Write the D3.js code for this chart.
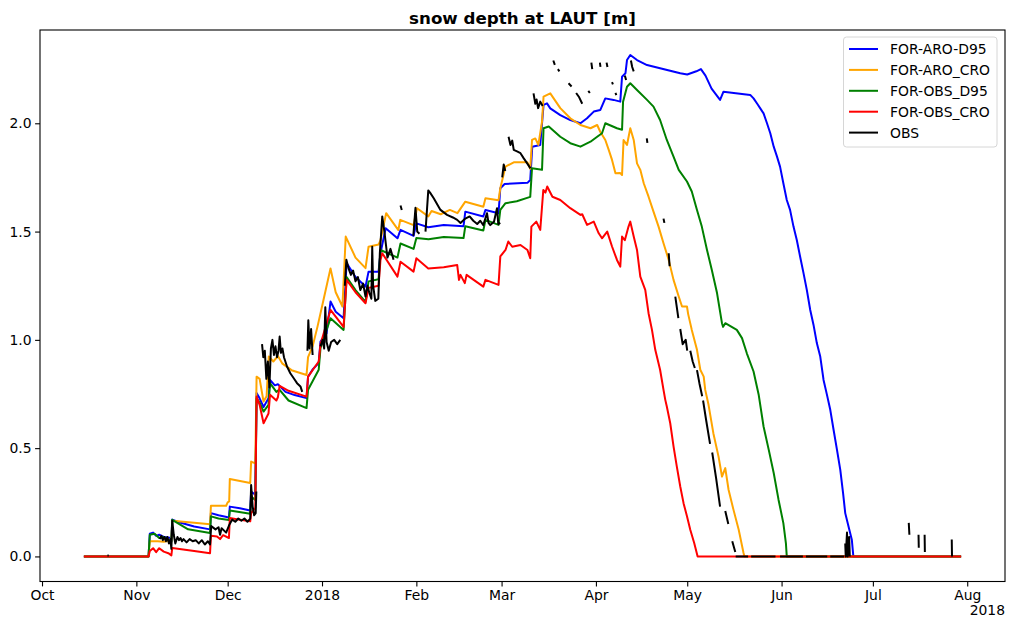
<!DOCTYPE html>
<html><head><meta charset="utf-8">
<script src="https://cdn.jsdelivr.net/npm/d3@7"></script>
<style>
body{margin:0;background:#fff;}
svg text{font-family:"DejaVu Sans",sans-serif;fill:#000;}
</style></head>
<body><svg id="c" width="1010" height="623"></svg>
<script>
// ---- data (dates as "MM-DD HH"; Sep-Dec = 2017, Jan-Aug = 2018) ----
const title = "snow depth at LAUT [m]";
const seriesNames = ["FOR-ARO-D95","FOR-ARO_CRO","FOR-OBS_D95","FOR-OBS_CRO","OBS"];
const seriesColors = ["#0000ff","#ffa500","#008000","#ff0000","#000000"];
const monthTicks = ["10-01","11-01","12-01","01-01","02-01","03-01","04-01","05-01","06-01","07-01","08-01"];
const monthLabels = ["Oct","Nov","Dec","2018","Feb","Mar","Apr","May","Jun","Jul","Aug"];
const yTicks = [0,0.5,1.0,1.5,2.0];
const yearOffsetLabel = "2018";

const foraroD95 = [["10-14 18",0],["11-05 00",0],["11-05 10",0.105],["11-06 12",0.11],["11-07 12",0.095],["11-08 12",0.10],["11-10 00",0.09],["11-12 12",0.085],["11-12 19",0.17],["11-15 00",0.158],["11-20 00",0.138],["11-25 05",0.125],["11-25 12",0.20],["11-28 00",0.19],["12-01 10",0.18],["12-01 17",0.23],["12-05 00",0.222],["12-08 10",0.212],["12-08 17",0.30],["12-10 02",0.285],["12-10 12",0.755],["12-11 12",0.73],["12-12 19",0.69],["12-14 10",0.73],["12-14 22",0.815],["12-16 12",0.79],["12-17 12",0.795],["12-20 00",0.76],["12-23 00",0.745],["12-26 22",0.731],["12-27 10",0.83],["12-29 00",0.865],["12-30 22",0.893],["12-31 12",0.992],["01-02 12",1.03],["01-03 19",1.177],["01-05 12",1.13],["01-08 02",1.10],["01-09 02",1.355],["01-12 00",1.29],["01-15 07",1.246],["01-16 07",1.315],["01-19 14",1.315],["01-20 05",1.40],["01-21 22",1.515],["01-25 19",1.469],["01-26 19",1.508],["01-31 02",1.48],["02-01 00",1.538],["02-04 22",1.52],["02-10 00",1.53],["02-16 12",1.525],["02-17 02",1.592],["02-23 00",1.57],["02-23 17",1.60],["02-28 00",1.585],["02-28 14",1.70],["03-02 00",1.72],["03-09 12",1.725],["03-10 10",1.738],["03-11 02",1.892],["03-13 17",1.90],["03-14 19",2.085],["03-15 22",2.092],["03-17 00",2.069],["03-20 07",2.038],["03-23 14",2.015],["03-26 22",2.0],["03-29 02",2.023],["03-31 07",2.054],["04-02 10",2.061],["04-04 02",2.115],["04-06 19",2.108],["04-09 00",2.10],["04-09 14",2.215],["04-10 17",2.231],["04-11 05",2.292],["04-12 07",2.315],["04-14 12",2.292],["04-17 19",2.269],["04-22 02",2.254],["04-28 17",2.231],["05-01 00",2.225],["05-04 00",2.24],["05-05 12",2.25],["05-07 00",2.22],["05-09 00",2.16],["05-11 19",2.108],["05-12 22",2.146],["05-21 17",2.131],["05-22 19",2.115],["05-24 00",2.09],["05-25 00",2.069],["05-26 02",2.046],["05-27 05",2.0],["05-28 07",1.954],["05-29 10",1.892],["05-30 12",1.846],["05-31 12",1.80],["06-01 14",1.723],["06-02 17",1.646],["06-03 19",1.60],["06-04 22",1.523],["06-06 00",1.461],["06-07 02",1.385],["06-08 05",1.308],["06-09 07",1.231],["06-10 10",1.138],["06-11 12",1.069],["06-12 14",0.985],["06-13 17",0.923],["06-14 19",0.815],["06-15 22",0.746],["06-17 00",0.677],["06-18 02",0.585],["06-19 05",0.492],["06-20 07",0.40],["06-21 05",0.292],["06-21 22",0.20],["06-23 00",0.138],["06-24 02",0.077],["06-24 14",0],["07-30 00",0]];

const foraroCRO = [["10-14 18",0],["11-05 00",0],["11-05 10",0.07],["11-08 00",0.07],["11-10 00",0.068],["11-12 12",0.075],["11-12 19",0.165],["11-20 00",0.155],["11-25 05",0.149],["11-25 12",0.234],["11-30 12",0.234],["12-01 00",0.25],["12-01 12",0.254],["12-01 17",0.358],["12-08 10",0.339],["12-08 17",0.438],["12-10 02",0.43],["12-10 12",0.83],["12-11 12",0.82],["12-12 19",0.715],["12-13 19",0.74],["12-14 12",0.923],["12-16 00",0.90],["12-17 12",0.925],["12-19 00",0.89],["12-22 00",0.86],["12-26 22",0.838],["12-27 10",0.92],["12-28 22",0.97],["12-30 12",1.06],["01-01 12",1.185],["01-03 19",1.33],["01-05 12",1.22],["01-07 17",1.154],["01-08 19",1.477],["01-12 00",1.38],["01-15 07",1.331],["01-16 07",1.43],["01-19 14",1.44],["01-20 05",1.46],["01-22 02",1.585],["01-26 02",1.507],["01-26 17",1.554],["01-31 02",1.53],["02-01 05",1.608],["02-04 22",1.57],["02-06 00",1.595],["02-09 00",1.58],["02-12 00",1.60],["02-14 12",1.585],["02-17 02",1.638],["02-23 00",1.615],["02-23 17",1.654],["02-28 00",1.645],["02-28 14",1.70],["03-02 07",1.80],["03-05 00",1.82],["03-09 12",1.82],["03-10 10",1.79],["03-11 00",1.923],["03-12 02",1.93],["03-13 02",1.90],["03-14 07",2.008],["03-14 19",2.123],["03-17 00",2.138],["03-20 07",2.07],["03-23 14",2.023],["03-26 22",1.992],["03-30 05",1.977],["04-01 10",1.992],["04-02 10",1.961],["04-04 02",1.923],["04-05 05",1.877],["04-06 07",1.831],["04-07 10",1.769],["04-09 00",1.77],["04-09 14",1.761],["04-10 02",1.923],["04-11 05",1.90],["04-12 07",1.977],["04-13 10",1.923],["04-14 12",1.815],["04-15 14",1.785],["04-16 17",1.723],["04-18 07",1.661],["04-19 22",1.592],["04-21 14",1.523],["04-23 05",1.446],["04-24 22",1.369],["04-26 12",1.277],["04-28 05",1.20],["04-29 07",1.154],["04-30 22",1.154],["05-01 07",1.12],["05-02 12",1.046],["05-04 05",0.954],["05-05 07",0.862],["05-06 10",0.83],["05-06 22",0.769],["05-08 00",0.70],["05-09 14",0.569],["05-11 07",0.461],["05-12 10",0.369],["05-13 12",0.408],["05-14 14",0.308],["05-16 05",0.215],["05-17 22",0.123],["05-19 12",0.016],["05-19 19",0],["07-30 00",0]];

const forobsD95 = [["10-14 18",0],["11-05 00",0],["11-05 10",0.10],["11-07 00",0.105],["11-08 12",0.085],["11-10 00",0.09],["11-11 12",0.075],["11-12 12",0.069],["11-12 19",0.169],["11-18 00",0.125],["11-25 05",0.108],["11-25 12",0.185],["11-28 00",0.175],["12-01 10",0.168],["12-01 17",0.212],["12-08 10",0.197],["12-08 17",0.277],["12-10 02",0.26],["12-10 12",0.73],["12-11 12",0.71],["12-12 19",0.669],["12-14 10",0.70],["12-14 22",0.80],["12-17 00",0.76],["12-18 00",0.77],["12-21 00",0.72],["12-26 22",0.685],["12-27 10",0.77],["12-30 22",0.862],["12-31 12",0.962],["01-03 19",1.10],["01-08 02",1.046],["01-09 02",1.29],["01-12 00",1.23],["01-15 07",1.175],["01-16 07",1.27],["01-19 14",1.28],["01-20 05",1.415],["01-25 19",1.38],["01-26 19",1.445],["01-31 02",1.42],["02-01 00",1.47],["02-05 00",1.465],["02-10 00",1.475],["02-16 12",1.47],["02-17 02",1.525],["02-23 00",1.505],["02-23 17",1.554],["02-28 00",1.531],["02-28 14",1.60],["03-02 07",1.631],["03-06 00",1.64],["03-10 10",1.66],["03-11 00",1.792],["03-14 07",1.785],["03-14 19",1.977],["03-16 12",1.985],["03-20 07",1.938],["03-23 14",1.908],["03-26 22",1.892],["03-30 05",1.915],["04-01 10",1.938],["04-03 00",1.954],["04-04 02",2.0],["04-07 22",1.977],["04-09 14",1.97],["04-09 22",2.10],["04-11 05",2.169],["04-12 07",2.185],["04-14 12",2.154],["04-17 19",2.108],["04-19 22",2.077],["04-22 02",2.015],["04-24 07",1.923],["04-26 12",1.846],["04-28 05",1.785],["04-30 22",1.731],["05-02 12",1.685],["05-04 05",1.60],["05-05 19",1.523],["05-07 12",1.415],["05-09 02",1.323],["05-10 19",1.216],["05-12 10",1.077],["05-12 19",1.06],["05-13 12",1.077],["05-17 07",1.046],["05-19 00",1.008],["05-20 14",0.938],["05-22 19",0.854],["05-24 12",0.745],["05-26 02",0.60],["05-27 19",0.492],["05-29 10",0.385],["05-31 00",0.262],["06-01 14",0.154],["06-02 10",0.062],["06-02 17",0],["07-30 00",0]];

const forobsCRO = [["10-14 18",0],["11-05 00",0],["11-05 10",0.025],["11-06 12",0.038],["11-07 12",0.02],["11-08 12",0.038],["11-10 00",0.022],["11-11 12",0.015],["11-12 12",0.005],["11-12 19",0.039],["11-20 00",0.025],["11-25 05",0.015],["11-25 12",0.095],["11-27 12",0.092],["11-28 12",0.08],["11-29 12",0.098],["12-01 10",0.085],["12-01 17",0.177],["12-04 00",0.172],["12-08 10",0.162],["12-08 17",0.20],["12-10 02",0.225],["12-10 12",0.738],["12-11 12",0.70],["12-12 19",0.615],["12-14 10",0.66],["12-14 22",0.746],["12-17 00",0.72],["12-17 12",0.735],["12-18 02",0.788],["12-21 00",0.765],["12-26 22",0.738],["12-27 10",0.83],["12-30 22",0.90],["12-31 12",0.98],["01-03 19",1.138],["01-08 02",1.06],["01-09 02",1.277],["01-12 00",1.22],["01-15 07",1.169],["01-16 07",1.24],["01-19 14",1.25],["01-20 05",1.369],["01-20 19",1.40],["01-25 19",1.292],["01-26 19",1.361],["01-31 02",1.315],["02-01 00",1.377],["02-04 22",1.33],["02-10 00",1.335],["02-14 10",1.346],["02-15 00",1.277],["02-15 12",1.30],["02-16 22",1.262],["02-17 12",1.30],["02-23 00",1.246],["02-23 17",1.277],["02-28 00",1.254],["02-28 14",1.385],["03-02 07",1.415],["03-03 05",1.454],["03-04 12",1.43],["03-07 05",1.438],["03-09 12",1.415],["03-10 10",1.377],["03-10 19",1.523],["03-12 10",1.546],["03-13 17",1.508],["03-14 17",1.692],["03-15 10",1.68],["03-16 00",1.708],["03-17 17",1.661],["03-20 07",1.646],["03-23 14",1.608],["03-26 22",1.577],["03-27 12",1.58],["03-29 02",1.531],["03-31 07",1.546],["04-01 22",1.492],["04-03 00",1.469],["04-04 17",1.50],["04-06 07",1.431],["04-07 22",1.369],["04-09 00",1.338],["04-09 14",1.477],["04-10 12",1.46],["04-11 17",1.523],["04-12 07",1.546],["04-13 10",1.477],["04-14 12",1.415],["04-15 14",1.292],["04-17 05",1.231],["04-18 07",1.123],["04-19 10",1.046],["04-20 12",0.954],["04-22 02",0.862],["04-23 05",0.769],["04-23 19",0.723],["04-24 07",0.692],["04-25 10",0.615],["04-26 12",0.508],["04-27 14",0.415],["04-28 17",0.323],["04-29 19",0.246],["04-30 22",0.185],["05-02 00",0.123],["05-03 07",0.062],["05-04 10",0],["07-30 00",0]];

// observed: null values break the line (gaps in the record)
const obs = [
["10-22 12",0.004],["10-22 22",0.004],[null,null],
["11-08 17",0.08],["11-09 05",0.095],["11-09 17",0.075],["11-10 05",0.09],["11-10 17",0.07],["11-11 05",0.09],["11-11 17",0.06],["11-12 05",0.08],["11-12 12",0.035],["11-12 19",0.165],["11-13 07",0.10],["11-13 19",0.06],["11-14 12",0.09],["11-15 00",0.075],["11-15 12",0.085],["11-16 00",0.07],["11-16 12",0.08],["11-17 12",0.065],["11-18 12",0.08],["11-19 12",0.07],["11-20 12",0.075],["11-21 12",0.06],["11-22 12",0.075],["11-23 12",0.055],["11-24 12",0.07],["11-25 05",0.055],["11-25 14",0.14],["11-27 00",0.125],["11-28 00",0.135],["11-28 12",0.10],["11-29 00",0.13],["11-30 12",0.11],["12-01 12",0.145],["12-02 12",0.17],["12-03 12",0.16],["12-04 12",0.175],["12-05 12",0.165],["12-06 12",0.175],["12-07 12",0.16],["12-08 10",0.175],["12-08 17",0.33],["12-09 05",0.23],["12-09 17",0.19],["12-10 05",0.20],["12-10 10",0.30],[null,null],
["12-12 07",0.98],["12-12 17",0.92],["12-13 05",0.95],["12-13 17",0.82],["12-14 05",0.90],["12-14 17",0.78],["12-15 05",0.96],["12-15 17",1.0],["12-16 05",0.93],["12-16 17",0.97],["12-17 05",0.92],["12-17 17",0.95],["12-18 02",1.015],["12-18 12",0.94],["12-19 00",0.96],["12-19 12",0.92],["12-20 12",0.877],["12-21 14",0.846],["12-22 17",0.823],["12-23 19",0.80],["12-24 22",0.785],["12-25 12",0.76],[null,null],
["12-27 05",0.95],["12-27 12",1.09],["12-27 22",0.96],["12-28 10",1.05],["12-28 22",0.93],[null,null],
["12-31 12",0.97],["01-01 05",1.0],["01-01 17",0.96],["01-02 02",1.15],["01-02 12",0.99],["01-03 05",0.95],["01-04 00",0.99],["01-05 00",1.0],["01-06 00",0.98],["01-07 00",1.0],[null,null],
["01-08 12",1.25],["01-09 00",1.37],["01-09 17",1.33],["01-10 12",1.30],["01-11 05",1.32],["01-12 00",1.27],["01-12 19",1.29],["01-13 14",1.23],["01-14 12",1.26],["01-15 07",1.20],["01-15 22",1.25],["01-16 12",1.22],["01-17 05",1.19],["01-17 12",1.43],["01-17 19",1.25],["01-18 12",1.18],["01-19 12",1.19],["01-20 00",1.40],["01-20 19",1.57],["01-21 12",1.50],["01-22 00",1.44],["01-22 12",1.38],["01-23 12",1.42],["01-24 12",1.37],[null,null],
["01-26 19",1.62],["01-27 05",1.60],[null,null],
["01-31 00",1.48],["01-31 17",1.61],["02-01 07",1.50],["02-02 00",1.49],[null,null],
["02-04 00",1.50],["02-04 22",1.69],["02-05 12",1.68],["02-06 17",1.654],["02-08 22",1.60],["02-11 02",1.577],["02-13 00",1.565],["02-14 10",1.554],["02-15 12",1.54],["02-17 02",1.56],["02-18 12",1.57],["02-19 17",1.55],["02-21 00",1.535],["02-22 00",1.55],["02-23 00",1.53],["02-24 05",1.585],["02-24 17",1.54],["02-25 07",1.53],["02-26 12",1.545],["02-27 12",1.608],["02-27 22",1.535],["02-28 14",1.54],[null,null],
["03-01 05",1.75],["03-01 17",1.81],["03-02 05",1.78],[null,null],
["03-03 07",1.938],["03-03 22",1.90],["03-04 12",1.92],["03-05 00",1.877],["03-06 02",1.87],["03-07 05",1.862],["03-08 07",1.838],["03-09 10",1.815],["03-10 12",1.792],[null,null],
["03-11 12",2.138],["03-12 02",2.09],["03-12 12",2.11],["03-13 00",2.07],["03-13 17",2.10],["03-14 12",2.08],[null,null],
["03-18 00",2.29],["03-18 12",2.27],[null,null],["03-19 12",2.25],["03-20 00",2.24],[null,null],
["03-23 00",2.185],["03-24 00",2.17],[null,null],["03-25 12",2.14],["03-26 12",2.12],["03-27 12",2.09],[null,null],
["03-29 12",2.15],["03-30 00",2.14],[null,null],["03-30 12",2.28],["03-30 19",2.25],[null,null],
["04-02 07",2.28],["04-02 12",2.26],[null,null],["04-04 12",2.28],["04-04 19",2.26],[null,null],
["04-06 07",2.19],["04-06 14",2.18],[null,null],["04-07 10",2.14],["04-07 17",2.13],[null,null],
["04-10 12",2.22],["04-10 22",2.20],[null,null],["04-12 12",2.29],["04-12 22",2.26],["04-13 10",2.24],[null,null],
["04-17 17",1.93],["04-17 22",1.91],[null,null],["04-23 05",1.56],["04-23 12",1.54],[null,null],
["04-24 22",1.40],["04-25 05",1.34],[null,null],["04-27 02",1.20],["04-28 02",1.10],[null,null],
["04-28 17",1.05],["04-29 12",0.98],["04-30 12",1.0],["05-01 00",0.95],[null,null],
["05-02 00",0.95],["05-02 19",0.90],["05-03 12",0.87],[null,null],
["05-04 05",0.86],["05-05 00",0.80],["05-05 22",0.74],[null,null],
["05-06 05",0.72],["05-07 05",0.63],["05-08 12",0.52],[null,null],
["05-09 05",0.48],["05-10 12",0.36],["05-11 19",0.23],[null,null],
["05-13 12",0.21],["05-14 12",0.15],[null,null],["05-15 19",0.07],["05-16 19",0.02],[null,null],
["05-16 22",0],["05-21 00",0],[null,null],["05-22 00",0],["05-30 00",0],[null,null],
["05-31 12",0],["06-08 00",0],[null,null],["06-09 00",0],["06-16 00",0],[null,null],
["06-17 00",0],["06-21 12",0],[null,null],
["06-21 22",0.06],["06-22 02",0],["06-22 12",0.11],["06-22 17",0],["06-23 05",0.09],["06-23 10",0],[null,null],
["07-12 19",0.155],["07-13 00",0.10],[null,null],["07-16 00",0.10],["07-16 02",0.04],[null,null],
["07-18 00",0.10],["07-18 02",0.02],[null,null],["07-26 22",0.078],["07-27 00",0]
];

// ---- build ----
const parse = s => { if (s == null) return null; const [md, h] = s.split(' '); const [m, d] = md.split('-').map(Number); return new Date(Date.UTC(m >= 9 ? 2017 : 2018, m - 1, d, +(h || 0))); };
const raw = [foraroD95, foraroCRO, forobsD95, forobsCRO, obs];
const series = raw.map((arr, i) => ({ name: seriesNames[i], color: seriesColors[i], pts: arr.map(([t, v]) => [parse(t), v]) }));

const svg = d3.select("#c");
const L = 40, R = 1005, T = 30, B = 581.5;

const allPts = series.flatMap(s => s.pts.filter(p => p[0] && p[1] != null));
const [t0, t1] = d3.extent(allPts, p => p[0]);
const tpad = (t1 - t0) * 0.05;
const x = d3.scaleUtc().domain([new Date(+t0 - tpad), new Date(+t1 + tpad)]).range([L, R]);
const [v0, v1] = d3.extent(allPts, p => p[1]);
const vpad = (v1 - v0) * 0.05;
const y = d3.scaleLinear().domain([v0 - vpad, v1 + vpad]).range([B, T]);

svg.append("clipPath").attr("id", "clp").append("rect").attr("x", L).attr("y", T).attr("width", R - L).attr("height", B - T);

const line = d3.line().defined(p => p[1] != null).x(p => x(p[0])).y(p => y(p[1]));
const g = svg.append("g").attr("clip-path", "url(#clp)");
series.forEach(s => {
  g.append("path").attr("d", line(s.pts)).attr("fill", "none").attr("stroke", s.color)
    .attr("stroke-width", 2).attr("stroke-linejoin", "round").attr("stroke-linecap", "butt");
});

// axes
const xa = d3.axisBottom(x).tickValues(monthTicks.map(parse)).tickFormat((d, i) => monthLabels[i]).tickSize(4.9).tickPadding(3.5).tickSizeOuter(0);
const gx = svg.append("g").attr("transform", `translate(0,${B})`).call(xa);
const ya = d3.axisLeft(y).tickValues(yTicks).tickFormat(d3.format(".1f")).tickSize(4.9).tickPadding(3.5).tickSizeOuter(0);
const gy = svg.append("g").attr("transform", `translate(${L},0)`).call(ya);
[gx, gy].forEach(a => {
  a.select(".domain").remove();
  a.selectAll(".tick line").attr("stroke", "#000").attr("stroke-width", 1.1);
  a.selectAll(".tick text").attr("font-size", "13.9px").attr("font-family", "DejaVu Sans");
});
svg.append("rect").attr("x", L).attr("y", T).attr("width", R - L).attr("height", B - T)
  .attr("fill", "none").attr("stroke", "#000").attr("stroke-width", 1.1);

svg.append("text").attr("x", R).attr("y", 615).attr("text-anchor", "end").attr("font-size", "13.9px").text(yearOffsetLabel);
svg.append("text").attr("x", (L + R) / 2).attr("y", 23.5).attr("text-anchor", "middle").attr("font-size", "16.7px").attr("font-weight", "bold").text(title);

// legend
const lg = svg.append("g");
lg.append("rect").attr("x", 843.5).attr("y", 37).attr("width", 153.5).attr("height", 110).attr("rx", 3)
  .attr("fill", "#fff").attr("fill-opacity", 0.8).attr("stroke", "#d6d6d6").attr("stroke-width", 1);
series.forEach((s, i) => {
  const yy = 49 + i * 20.9;
  lg.append("line").attr("x1", 849).attr("x2", 878).attr("y1", yy).attr("y2", yy).attr("stroke", s.color).attr("stroke-width", 2);
  lg.append("text").attr("x", 890).attr("y", yy + 5).attr("font-size", "13.9px").text(s.name);
});
</script></body></html>
